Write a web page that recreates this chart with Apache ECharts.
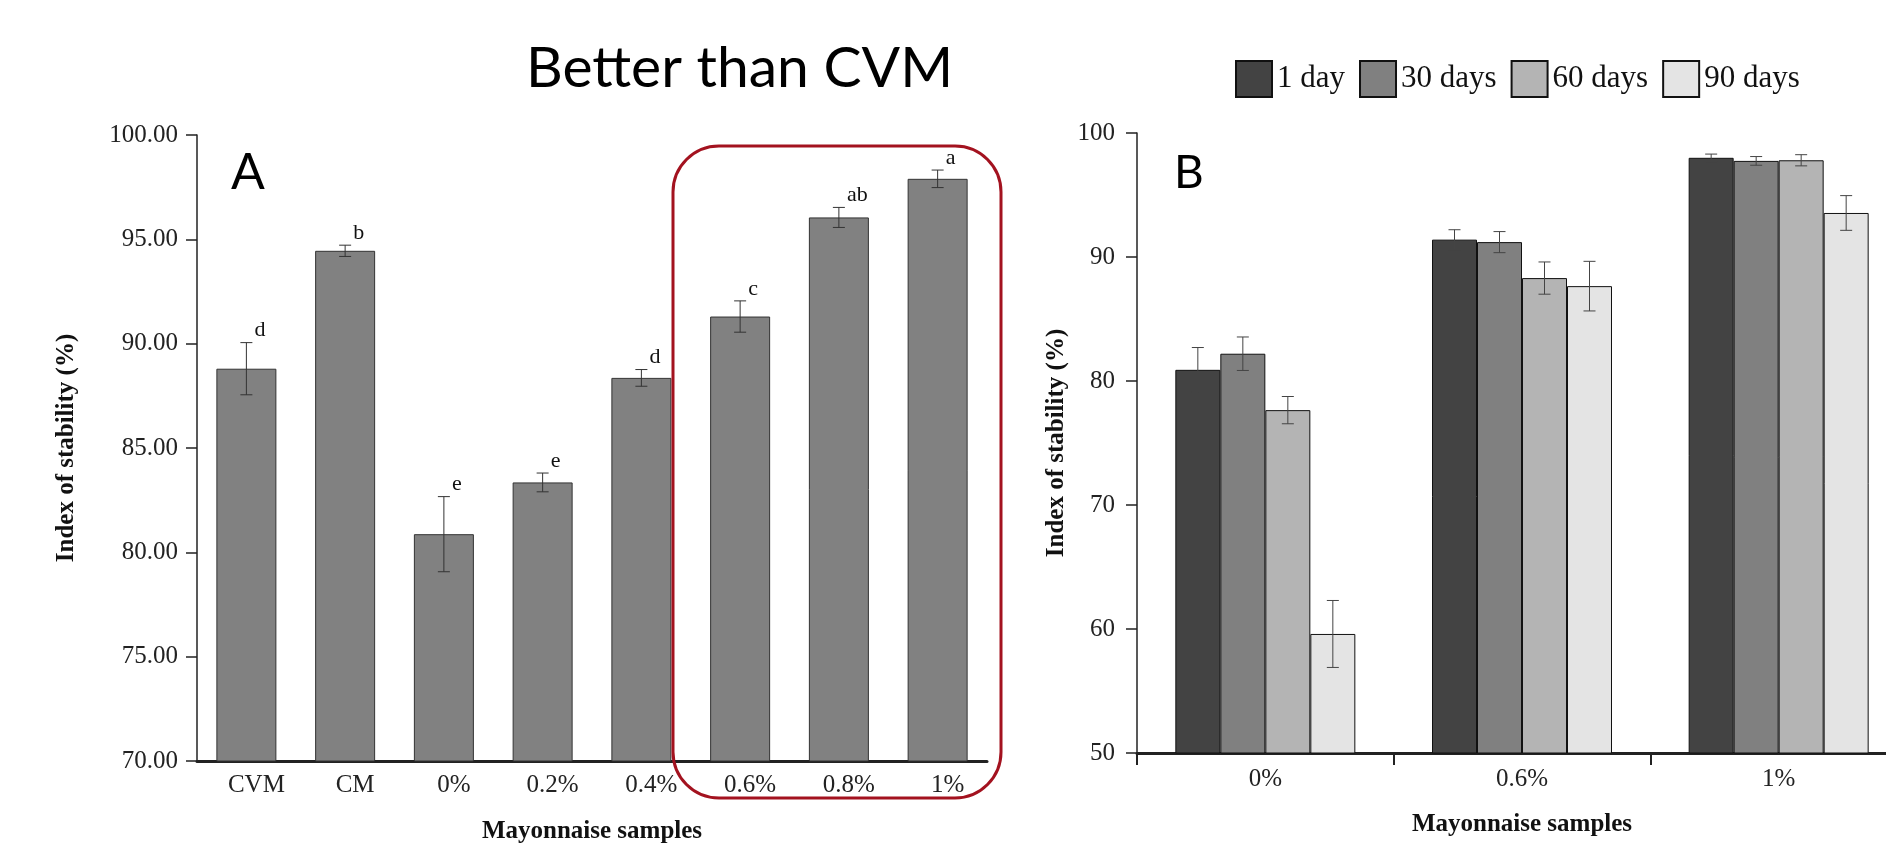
<!DOCTYPE html>
<html>
<head>
<meta charset="utf-8">
<script src="https://cdn.jsdelivr.net/npm/echarts@6/dist/echarts.min.js"></script>
<style>
  html, body { margin: 0; padding: 0; background: #fff; }
  #chart { width: 1886px; height: 848px; }
</style>
</head>
<body>
<div id="chart"></div>
<script>
// ---- Panel A data ----
const catsA = ['CVM', 'CM', '0%', '0.2%', '0.4%', '0.6%', '0.8%', '1%'];
const valsA = [88.8, 94.45, 80.87, 83.35, 88.36, 91.3, 96.05, 97.9];
const errA = [1.25, 0.27, 1.8, 0.45, 0.4, 0.75, 0.48, 0.42];
const lettersA = ['d', 'b', 'e', 'e', 'd', 'c', 'ab', 'a'];
const ticksA = { min: 70, max: 100, interval: 5 };

// ---- Panel B data ----
const catsB = ['0%', '0.6%', '1%'];
const daysB = ['1 day', '30 days', '60 days', '90 days'];
const day1 = [80.9, 91.4, 98.0];
const day30 = [82.2, 91.2, 97.75];
const day60 = [77.65, 88.3, 97.8];
const day90 = [59.6, 87.65, 93.55];
const err1 = [1.8, 0.8, 0.3];
const err30 = [1.35, 0.85, 0.35];
const err60 = [1.1, 1.3, 0.45];
const err90 = [2.7, 2.0, 1.4];
const ticksB = { min: 50, max: 100, interval: 10 };

const valsB = [day1, day30, day60, day90];
const errsB = [err1, err30, err60, err90];
const colorsB = ['#434343', '#808080', '#b4b4b4', '#e4e4e4'];

const SERIF = '"Liberation Serif", "Times New Roman", serif';
const BAR_W_A = 60;
const BAR_W_B = 45;

const chart = echarts.init(document.getElementById('chart'));

function errRenderA(params, api) {
  const i = api.value(0), v = api.value(1), e = api.value(2);
  const top = api.coord([i, v + e]);
  const bot = api.coord([i, v - e]);
  const cap = 6;
  const st = { stroke: '#333', lineWidth: 1 };
  return {
    type: 'group',
    children: [
      { type: 'line', shape: { x1: top[0], y1: top[1], x2: bot[0], y2: bot[1] }, style: st },
      { type: 'line', shape: { x1: top[0] - cap, y1: top[1], x2: top[0] + cap, y2: top[1] }, style: st },
      { type: 'line', shape: { x1: bot[0] - cap, y1: bot[1], x2: bot[0] + cap, y2: bot[1] }, style: st },
      { type: 'text', style: { x: top[0] + 8, y: top[1] - 1, text: lettersA[params.dataIndex],
          font: '22px ' + SERIF, fill: '#111', textAlign: 'left', textVerticalAlign: 'bottom' } }
    ]
  };
}

function makeErrRenderB(d) {
  return function (params, api) {
    const i = api.value(0), v = api.value(1), e = api.value(2);
    const off = (d - 1.5) * BAR_W_B;
    const top = api.coord([i, v + e]);
    const bot = api.coord([i, v - e]);
    const x = top[0] + off;
    const cap = 6;
    const st = { stroke: '#444', lineWidth: 1 };
    return {
      type: 'group',
      children: [
        { type: 'line', shape: { x1: x, y1: top[1], x2: x, y2: bot[1] }, style: st },
        { type: 'line', shape: { x1: x - cap, y1: top[1], x2: x + cap, y2: top[1] }, style: st },
        { type: 'line', shape: { x1: x - cap, y1: bot[1], x2: x + cap, y2: bot[1] }, style: st }
      ]
    };
  };
}

const series = [];
series.push({
  name: 'A', type: 'bar', xAxisIndex: 0, yAxisIndex: 0,
  data: valsA, barWidth: BAR_W_A,
  itemStyle: { color: '#818181', borderColor: '#333', borderWidth: 1 },
  silent: true, animation: false
});
series.push({
  type: 'custom', xAxisIndex: 0, yAxisIndex: 0,
  data: valsA.map((v, i) => [i, v, errA[i]]),
  renderItem: errRenderA, z: 5, silent: true, animation: false
});
daysB.forEach((name, d) => {
  series.push({
    name: name, type: 'bar', xAxisIndex: 1, yAxisIndex: 1,
    data: valsB[d], barWidth: BAR_W_B, barGap: '0%',
    itemStyle: { color: colorsB[d], borderColor: '#111', borderWidth: 1 },
    silent: true, animation: false
  });
});
daysB.forEach((name, d) => {
  series.push({
    type: 'custom', xAxisIndex: 1, yAxisIndex: 1,
    data: valsB[d].map((v, i) => [i, v, errsB[d][i]]),
    renderItem: makeErrRenderB(d), z: 5, silent: true, animation: false
  });
});

const option = {
  animation: false,
  backgroundColor: '#fff',
  grid: [
    { left: 197, top: 135, width: 790, height: 626, outerBoundsMode: 'none', containLabel: false },
    { left: 1137, top: 133, width: 770, height: 620, outerBoundsMode: 'none', containLabel: false }
  ],
  legend: {
    data: daysB,
    left: 1230, top: 55,
    itemWidth: 36, itemHeight: 36, itemGap: 14,
    icon: 'rect',
    textStyle: { fontFamily: SERIF, fontSize: 31, color: '#111' },
    selectedMode: false
  },
  xAxis: [
    {
      type: 'category', gridIndex: 0, data: catsA,
      axisLine: { lineStyle: { color: '#222', width: 3 } },
      axisTick: { show: false },
      axisLabel: { fontFamily: SERIF, fontSize: 25, color: '#222', margin: 12, padding: [0, 0, 0, 20] },
      name: 'Mayonnaise samples', nameLocation: 'middle', nameGap: 58,
      nameTextStyle: { fontFamily: SERIF, fontSize: 25, fontWeight: 'bold', color: '#111' }
    },
    {
      type: 'category', gridIndex: 1, data: catsB,
      axisLine: { lineStyle: { color: '#222', width: 3 } },
      axisTick: { show: true, inside: false, length: 12, lineStyle: { color: '#222', width: 2 } },
      axisLabel: { fontFamily: SERIF, fontSize: 25, color: '#222', margin: 14 },
      name: 'Mayonnaise samples', nameLocation: 'middle', nameGap: 59,
      nameTextStyle: { fontFamily: SERIF, fontSize: 25, fontWeight: 'bold', color: '#111' }
    }
  ],
  yAxis: [
    {
      type: 'value', gridIndex: 0, min: ticksA.min, max: ticksA.max, interval: ticksA.interval,
      axisLine: { show: true, lineStyle: { color: '#222', width: 1.5 } },
      axisTick: { show: true, inside: false, length: 11, lineStyle: { color: '#222', width: 1.5 } },
      splitLine: { show: false },
      axisLabel: { fontFamily: SERIF, fontSize: 25, color: '#222', margin: 19,
        formatter: v => v.toFixed(2) },
      name: 'Index of stability (%)', nameLocation: 'middle', nameGap: 118, nameRotate: 90,
      nameTextStyle: { fontFamily: SERIF, fontSize: 25, fontWeight: 'bold', color: '#111' }
    },
    {
      type: 'value', gridIndex: 1, min: ticksB.min, max: ticksB.max, interval: ticksB.interval,
      axisLine: { show: true, lineStyle: { color: '#222', width: 1.5 } },
      axisTick: { show: true, inside: false, length: 11, lineStyle: { color: '#222', width: 1.5 } },
      splitLine: { show: false },
      axisLabel: { fontFamily: SERIF, fontSize: 25, color: '#222', margin: 22 },
      name: 'Index of stability (%)', nameLocation: 'middle', nameGap: 68, nameRotate: 90,
      nameTextStyle: { fontFamily: SERIF, fontSize: 25, fontWeight: 'bold', color: '#111' }
    }
  ],
  graphic: [
    { type: 'text', left: 526, top: 40, style: { text: 'Better than CVM', font: '57px Lato, "Open Sans", sans-serif', fill: '#000' } },
    { type: 'text', left: 231, top: 148, style: { text: 'A', font: '50px Lato, "Open Sans", sans-serif', fill: '#000' } },
    { type: 'text', left: 1174, top: 150, style: { text: 'B', font: '46px Lato, "Open Sans", sans-serif', fill: '#000' } },
    { type: 'rect', shape: { x: 673, y: 146, width: 328, height: 652, r: 46 },
      style: { fill: 'none', stroke: '#a3121f', lineWidth: 3 }, z: 10 }
  ],
  series: series
};
chart.setOption(option);
</script>
</body>
</html>
